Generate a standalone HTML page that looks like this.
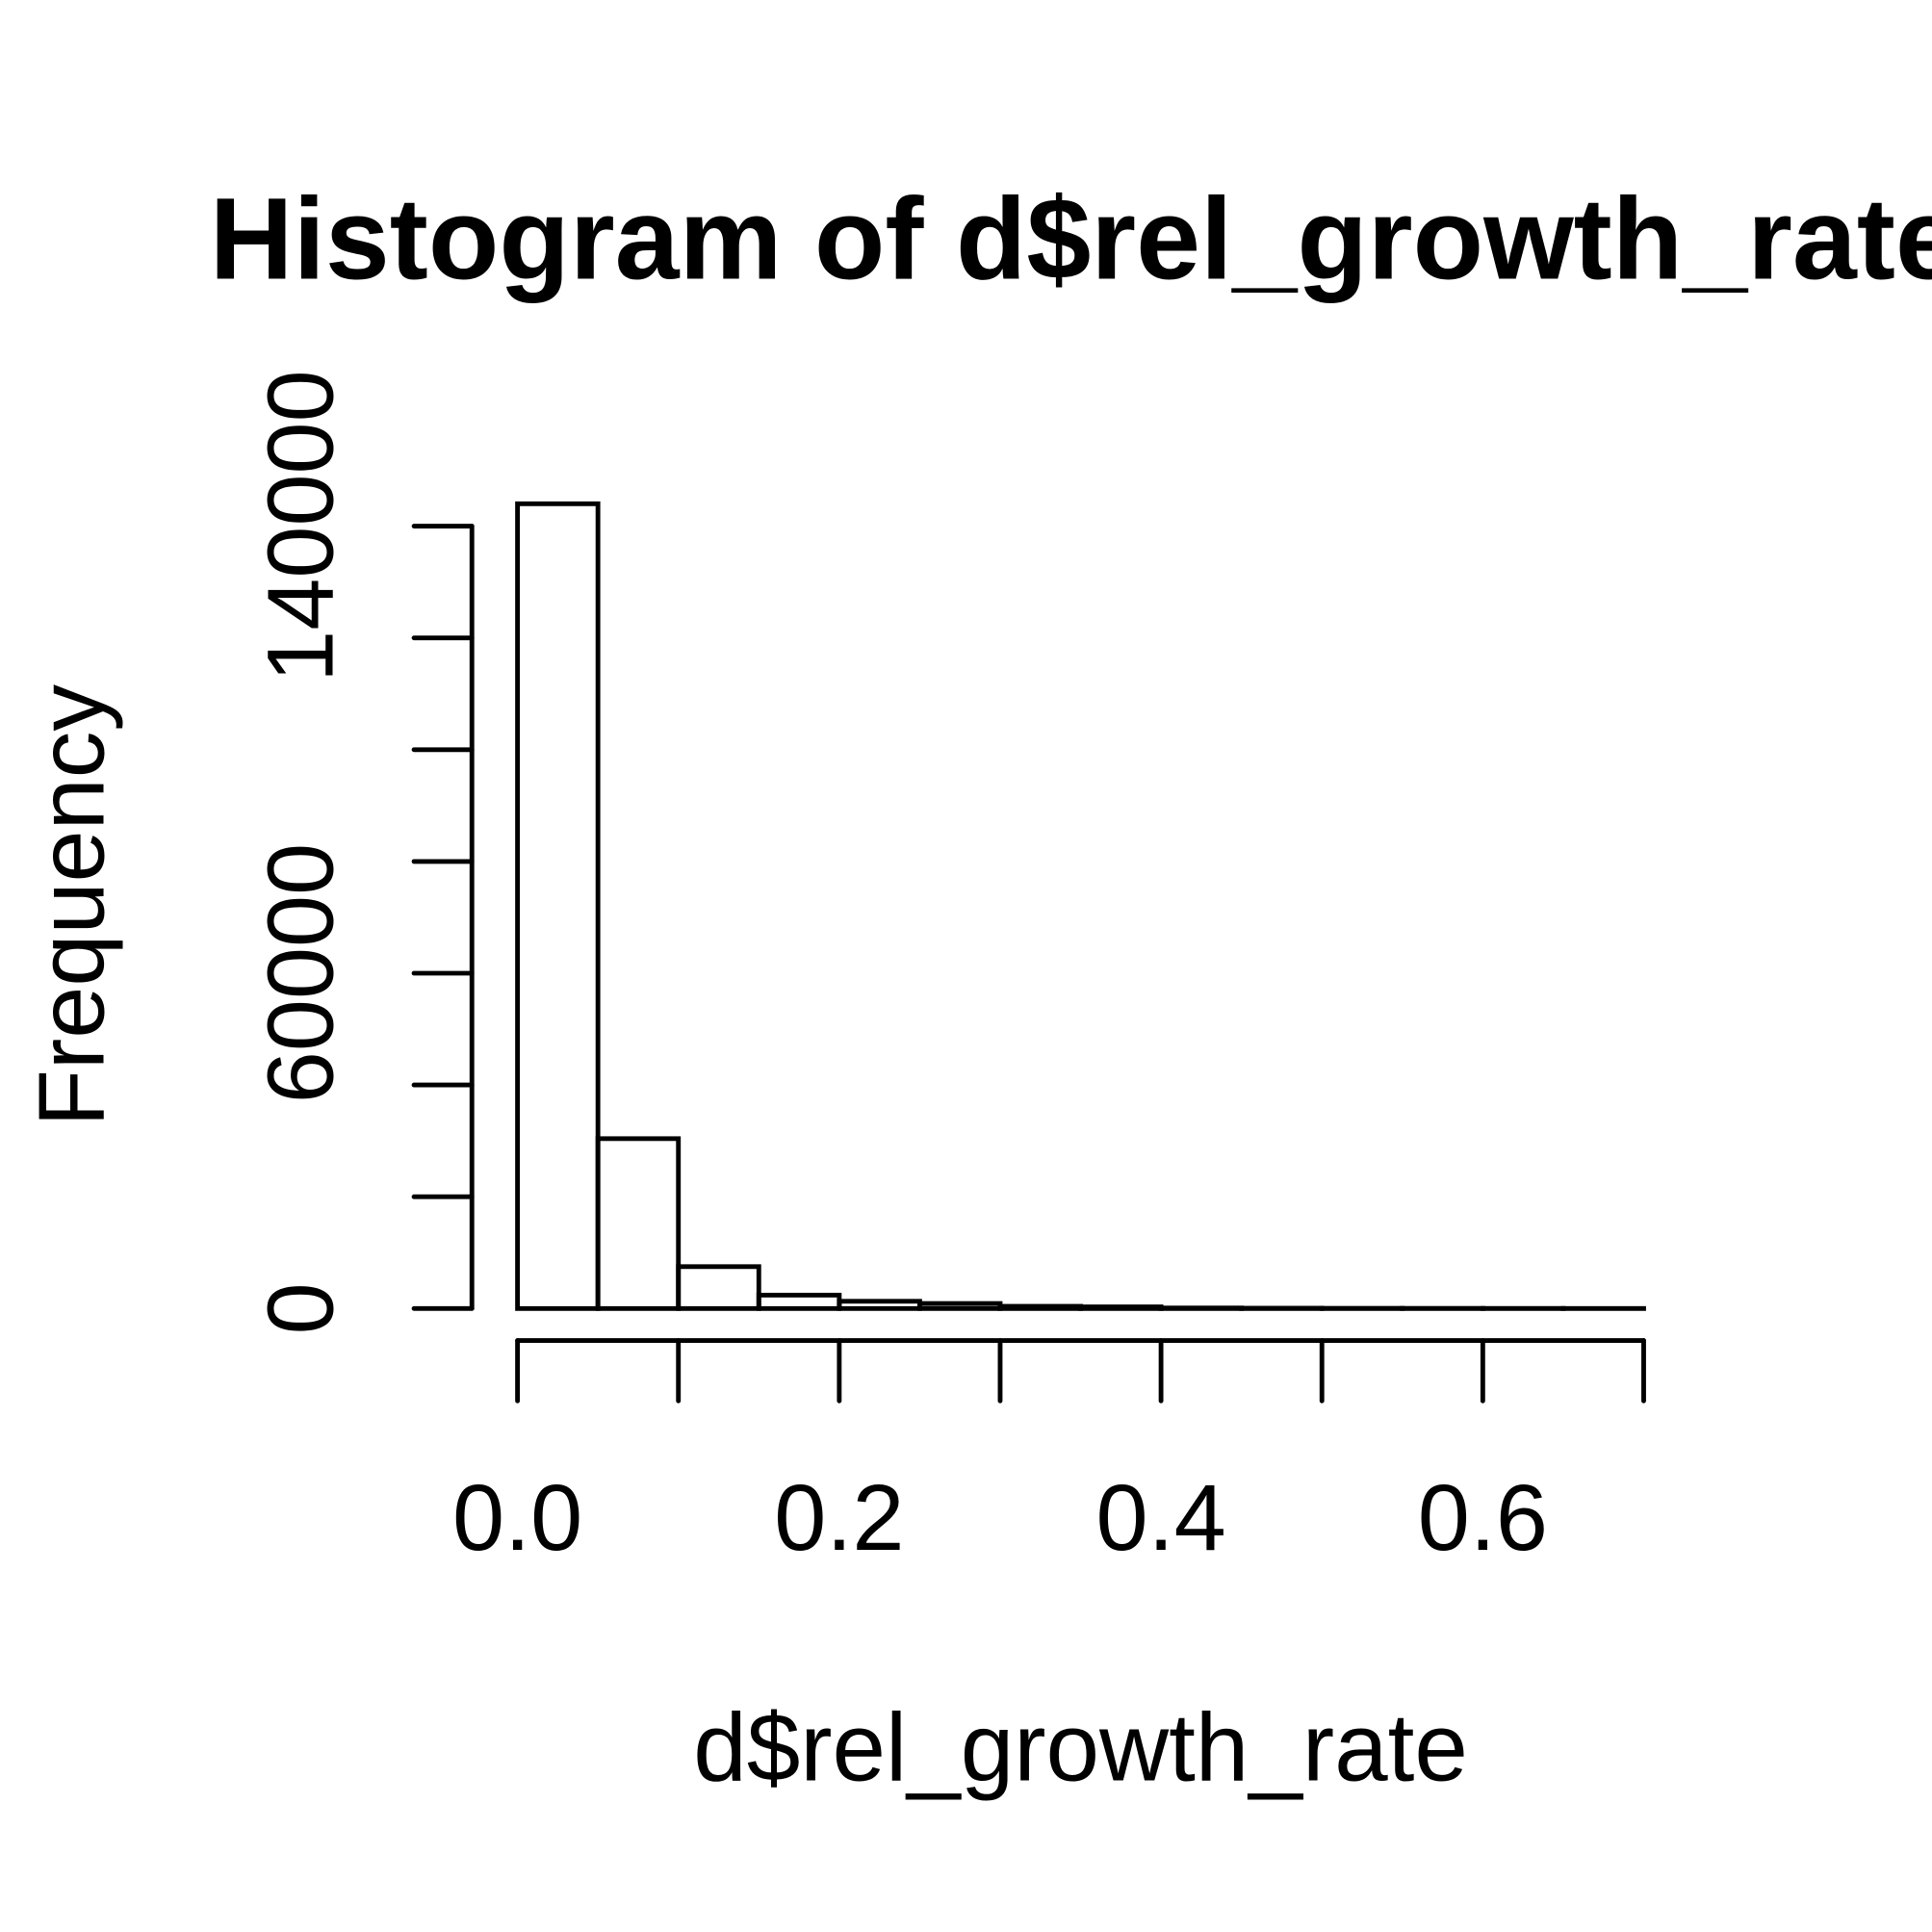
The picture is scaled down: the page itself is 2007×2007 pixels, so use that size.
<!DOCTYPE html>
<html><head><meta charset="utf-8"><style>html,body{margin:0;padding:0;background:#fff}svg{display:block}</style></head>
<body>
<svg id="chart" width="2007" height="2007" viewBox="0 0 1568 1568" xmlns="http://www.w3.org/2000/svg" font-family="Liberation Sans, Arial, sans-serif">
<text x="170" y="226" font-size="94" font-weight="bold">Histogram of d$rel_growth_rate</text>
<text x="877" y="1445" font-size="78" text-anchor="middle">d$rel_growth_rate</text>
<text transform="translate(84,735) rotate(-90)" font-size="76" text-anchor="middle">Frequency</text>
<g id="bars"></g>
<g id="xaxis"></g>
<g id="yaxis"></g>
</svg>
<script>
const binEdges = [0,0.05,0.1,0.15,0.2,0.25,0.3,0.35,0.4,0.45,0.5,0.55,0.6,0.65,0.7];
const counts = [144000,30400,7500,2400,1300,900,400,300,100,60,40,30,20,10];
const xTicks = [0,0.1,0.2,0.3,0.4,0.5,0.6,0.7];
const xTickLabels = ["0.0","","0.2","","0.4","","0.6",""];
const yTicks = [0,20000,40000,60000,80000,100000,120000,140000];
const yTickLabels = ["0","","","60000","","","","140000"];
const NS="http://www.w3.org/2000/svg";
const x = v => 420 + v*(1334-420)/0.7;
const y = v => 1062 - v*(1062-427)/140000;
function mk(tag, attrs, parent){const e=document.createElementNS(NS,tag);for(const k in attrs)e.setAttribute(k,attrs[k]);parent.appendChild(e);return e;}
const sw=3.8;
const bars=document.getElementById('bars');
counts.forEach((c,i)=>{
  const r=mk('rect',{x:x(binEdges[i]),y:y(c),width:x(binEdges[i+1])-x(binEdges[i]),height:y(0)-y(c),fill:'none',stroke:'#000','stroke-width':sw},bars);
  
  
});
const xa=document.getElementById('xaxis');
mk('line',{x1:x(xTicks[0]),x2:x(xTicks[xTicks.length-1]),y1:1088,y2:1088,stroke:'#000','stroke-width':sw,'stroke-linecap':'round'},xa);
xTicks.forEach((t,i)=>{
  const l=mk('line',{x1:x(t),x2:x(t),y1:1088,y2:1137,stroke:'#000','stroke-width':sw,'stroke-linecap':'round'},xa);
  
  
  if(xTickLabels[i]){const tx=mk('text',{x:x(t),y:1258,'font-size':76,'text-anchor':'middle'},xa);tx.textContent=xTickLabels[i];
  
  }
});
const ya=document.getElementById('yaxis');
mk('line',{x1:383,x2:383,y1:y(yTicks[0]),y2:y(yTicks[yTicks.length-1]),stroke:'#000','stroke-width':sw,'stroke-linecap':'round'},ya);
yTicks.forEach((t,i)=>{
  const l=mk('line',{x1:336,x2:383,y1:y(t),y2:y(t),stroke:'#000','stroke-width':sw,'stroke-linecap':'round'},ya);
  
  
  if(yTickLabels[i]){const tx=mk('text',{transform:`translate(270,${y(t)}) rotate(-90)`,'font-size':76,'text-anchor':'middle'},ya);tx.textContent=yTickLabels[i];
  
  }
});
</script>
</body></html>
